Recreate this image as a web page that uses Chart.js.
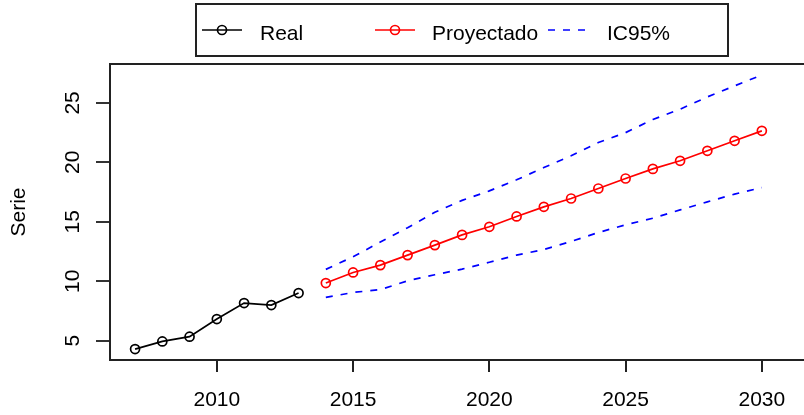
<!DOCTYPE html>
<html>
<head>
<meta charset="utf-8">
<title>Serie real y proyectada</title>
<script src="https://cdn.jsdelivr.net/npm/chart.js@4.4.1/dist/chart.umd.min.js"></script>
<style>
  html, body { margin: 0; padding: 0; background: #fff; overflow: hidden; }
  #wrap { width: 840px; height: 415px; }
</style>
</head>
<body>
<div id="wrap"><canvas id="grafico" width="840" height="415"></canvas></div>
<script>
// Serie observada
const anosReal = [2007, 2008, 2009, 2010, 2011, 2012, 2013];
const valoresReal = [4.30, 4.94, 5.34, 6.82, 8.17, 8.00, 9.01];

// Proyeccion con intervalo de confianza al 95%
const anosProy = [2014, 2015, 2016, 2017, 2018, 2019, 2020, 2021, 2022,
                  2023, 2024, 2025, 2026, 2027, 2028, 2029, 2030];
const valoresProy = [9.85, 10.74, 11.36, 12.20, 13.04, 13.90, 14.58, 15.45, 16.26,
                     16.96, 17.80, 18.64, 19.45, 20.13, 20.97, 21.81, 22.65];
const icSuperior = [11.00, 12.06, 13.30, 14.50, 15.80, 16.80, 17.60, 18.53, 19.56,
                    20.55, 21.67, 22.50, 23.60, 24.47, 25.50, 26.43, 27.35];
const icInferior = [8.64, 9.06, 9.30, 10.04, 10.55, 11.02, 11.60, 12.20, 12.67,
                    13.35, 14.10, 14.75, 15.30, 16.00, 16.68, 17.33, 17.88];

// Marcas de los ejes
const ticksX = [2010, 2015, 2020, 2025, 2030];
const ticksY = [5, 10, 15, 20, 25];

const FUENTE = '"Liberation Sans", Arial, sans-serif';
const TAM = 21;

function puntos(xs, ys) {
  return xs.map((x, i) => ({ x: x, y: ys[i] }));
}

// Recuadro alrededor del area de trazado y marcas del eje X
const marco = {
  id: 'marco',
  afterDraw(chart) {
    const a = chart.chartArea;
    const ctx = chart.ctx;
    const ex = chart.scales.x;
    ctx.save();
    ctx.strokeStyle = '#222';
    ctx.lineWidth = 2;
    ctx.strokeRect(a.left, a.top, a.right - a.left, a.bottom - a.top);
    ctx.beginPath();
    ticksX.forEach(v => {
      const x = Math.round(ex.getPixelForValue(v));
      ctx.moveTo(x, a.bottom);
      ctx.lineTo(x, a.bottom + 12);
    });
    ctx.stroke();
    ctx.restore();
  }
};

// Etiquetas del eje Y giradas, como en R
const etiquetasY = {
  id: 'etiquetasY',
  afterDraw(chart) {
    const ctx = chart.ctx;
    const escala = chart.scales.y;
    ctx.save();
    ctx.fillStyle = '#000';
    ctx.font = TAM + 'px ' + FUENTE;
    ctx.textAlign = 'center';
    ctx.textBaseline = 'alphabetic';
    ticksY.forEach(v => {
      const y = escala.getPixelForValue(v);
      ctx.save();
      ctx.translate(79, y);
      ctx.rotate(-Math.PI / 2);
      ctx.fillText(String(v), 0, 0);
      ctx.restore();
    });
    ctx.restore();
  }
};

// Leyenda en recuadro sobre el grafico
const leyenda = {
  id: 'leyenda',
  afterDraw(chart) {
    const ctx = chart.ctx;
    const items = [
      { ds: 0, x0: 202, texto: 260 },
      { ds: 1, x0: 375, texto: 432 },
      { ds: 2, x0: 548, texto: 607 }
    ];
    ctx.save();
    ctx.strokeStyle = '#222';
    ctx.lineWidth = 2;
    ctx.strokeRect(196, 4, 532, 52);
    const yl = 30;
    items.forEach(it => {
      const d = chart.data.datasets[it.ds];
      ctx.strokeStyle = d.borderColor;
      ctx.lineWidth = d.borderWidth;
      ctx.setLineDash(d.borderDash || []);
      ctx.beginPath();
      ctx.moveTo(it.x0, yl);
      ctx.lineTo(it.x0 + 40, yl);
      ctx.stroke();
      ctx.setLineDash([]);
      if (d.pointRadius > 0) {
        ctx.beginPath();
        ctx.arc(it.x0 + 20, yl, d.pointRadius, 0, Math.PI * 2);
        ctx.stroke();
      }
      ctx.fillStyle = '#000';
      ctx.font = TAM + 'px ' + FUENTE;
      ctx.textAlign = 'left';
      ctx.textBaseline = 'alphabetic';
      ctx.fillText(d.label, it.texto, 40);
    });
    ctx.restore();
  }
};

const estiloMarcas = {
  borderWidth: 1.7,
  pointRadius: 4.5,
  pointBorderWidth: 1.7,
  pointBackgroundColor: 'rgba(0,0,0,0)',
  pointStyle: 'circle',
  tension: 0
};

const ctx = document.getElementById('grafico').getContext('2d');
new Chart(ctx, {
  type: 'line',
  data: {
    datasets: [
      Object.assign({
        label: 'Real',
        data: puntos(anosReal, valoresReal),
        borderColor: '#000000',
        pointBorderColor: '#000000'
      }, estiloMarcas),
      Object.assign({
        label: 'Proyectado',
        data: puntos(anosProy, valoresProy),
        borderColor: '#ff0000',
        pointBorderColor: '#ff0000'
      }, estiloMarcas),
      {
        label: 'IC95%',
        data: puntos(anosProy, icSuperior),
        borderColor: '#0000ff',
        borderWidth: 1.7,
        borderDash: [7, 8],
        pointRadius: 0,
        tension: 0
      },
      {
        label: 'IC95% inferior',
        data: puntos(anosProy, icInferior),
        borderColor: '#0000ff',
        borderWidth: 1.7,
        borderDash: [7, 8],
        pointRadius: 0,
        tension: 0
      }
    ]
  },
  options: {
    responsive: false,
    animation: false,
    devicePixelRatio: 1,
    layout: { padding: { top: 64, right: 0, bottom: 0, left: 0 } },
    plugins: {
      legend: { display: false },
      tooltip: { enabled: false }
    },
    scales: {
      x: {
        type: 'linear',
        min: 2006.08,
        max: 2032.64,
        afterBuildTicks: s => { s.ticks = ticksX.map(v => ({ value: v })); },
        afterFit: s => { s.height = 55; },
        border: { display: false },
        grid: {
          drawOnChartArea: false,
          drawTicks: false
        },
        ticks: {
          autoSkip: false,
          maxRotation: 0,
          padding: 28,
          color: '#000',
          font: { family: FUENTE, size: TAM },
          callback: v => String(v)
        }
      },
      y: {
        type: 'linear',
        min: 3.38,
        max: 28.27,
        afterBuildTicks: s => { s.ticks = ticksY.map(v => ({ value: v })); },
        afterFit: s => { s.width = 110; },
        border: { display: false },
        grid: {
          drawOnChartArea: false,
          drawTicks: true,
          tickLength: 14,
          color: '#333',
          lineWidth: 2
        },
        ticks: { display: false },
        title: {
          display: true,
          text: 'Serie',
          color: '#000',
          font: { family: FUENTE, size: TAM },
          padding: { top: 7, bottom: 0 }
        }
      }
    }
  },
  plugins: [marco, etiquetasY, leyenda]
});
</script>
</body>
</html>
